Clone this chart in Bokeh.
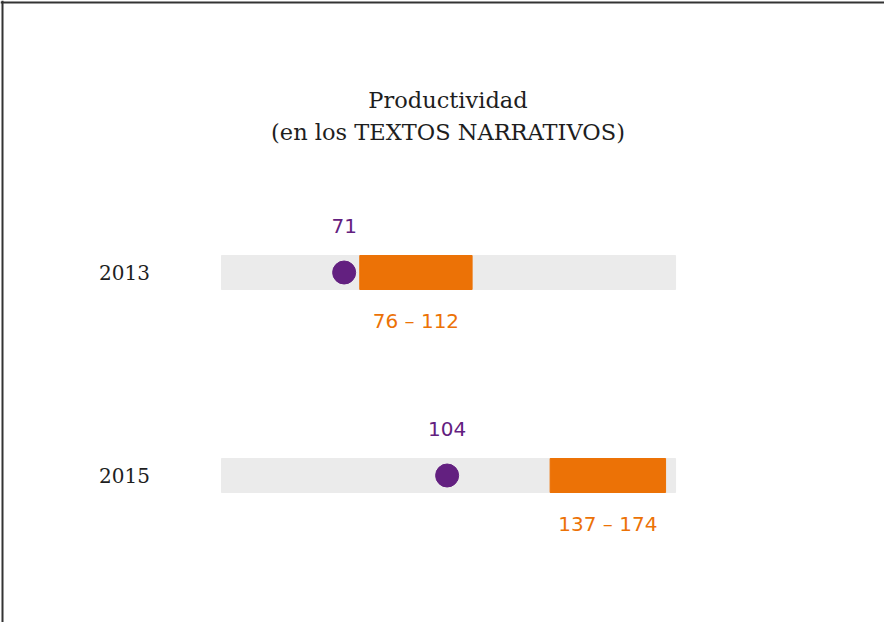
from bokeh.plotting import figure
from bokeh.models import Range1d, Span, ColumnDataSource
from bokeh.core.properties import value
from bokeh.embed import file_html
from bokeh.resources import INLINE

# ---- data ----
years = [2013, 2015]
year_labels = ["2013", "2015"]
scores = [71, 104]
range_low = [76, 137]
range_high = [112, 174]
track_min = [31.7, 31.7]
track_max = [177.2, 177.2]
title_lines = ["Productividad", "(en los TEXTOS NARRATIVOS)"]

# ---- layout / scale constants ----
W, H = 884, 622
PX_PER_VAL = 3.1206
X0_PAGE = 130.09
PX_PER_YEAR = 101.5
ROW_PAGE_Y = 280.0

x_start = (8 - X0_PAGE) / PX_PER_VAL
x_end = x_start + W / PX_PER_VAL
y_top = years[0] - (ROW_PAGE_Y - 8) / PX_PER_YEAR
y_bottom = y_top + H / PX_PER_YEAR

GRAY = "#ebebeb"
ORANGE = "#ec7206"
PURPLE = "#632080"
DARK = "#1e1e1e"

p = figure(width=W, height=H, output_backend="svg", toolbar_location=None,
           x_range=Range1d(x_start, x_end), y_range=Range1d(y_bottom, y_top),
           x_axis_location=None, y_axis_location=None, min_border=0)
p.grid.visible = False
p.outline_line_color = None
p.background_fill_color = "white"
p.border_fill_color = "white"

bar_h = 34 / PX_PER_YEAR
above = 47 / PX_PER_YEAR
below = 48 / PX_PER_YEAR

src = ColumnDataSource(dict(
    y=years, ylab=year_labels, score=scores, lo=range_low, hi=range_high,
    tmin=track_min, tmax=track_max,
    mid=[(a + b) / 2 for a, b in zip(range_low, range_high)],
    score_txt=[str(s) for s in scores],
    range_txt=[f"{a} \u2013 {b}" for a, b in zip(range_low, range_high)],
    y_above=[y - above for y in years],
    y_below=[y + below for y in years],
))

p.hbar(y="y", left="tmin", right="tmax", height=bar_h, color=GRAY, source=src)
p.hbar(y="y", left="lo", right="hi", height=bar_h, color=ORANGE, source=src)
p.scatter(x="score", y="y", size=23, color=PURPLE, source=src)

p.text(x="score", y="y_above", text="score_txt", source=src,
       text_font=value("DejaVu Sans"), text_font_size="20px",
       text_color=PURPLE, text_align="center", text_baseline="middle")
p.text(x="mid", y="y_below", text="range_txt", source=src,
       text_font=value("DejaVu Sans"), text_font_size="20px",
       text_color=ORANGE, text_align="center", text_baseline="middle")

year_x = (157.5 - X0_PAGE) / PX_PER_VAL
p.text(x=[year_x] * len(years), y=years, text=year_labels,
       text_font=value("DejaVu Serif"), text_font_size="20px",
       text_color=DARK, text_align="right", text_baseline="middle")

title_x = (455.5 - X0_PAGE) / PX_PER_VAL
title_y = [years[0] + (107 - ROW_PAGE_Y) / PX_PER_YEAR,
           years[0] + (139 - ROW_PAGE_Y) / PX_PER_YEAR]
p.text(x=[title_x] * 2, y=title_y, text=title_lines,
       text_font=value("DejaVu Serif"), text_font_size="22.5px",
       text_color=DARK, text_align="center", text_baseline="middle")

# frame border (left and top edges only, as in the reference)
p.add_layout(Span(location=x_start + 2 / PX_PER_VAL, dimension="height",
                  line_color="#333333", line_width=2))
p.add_layout(Span(location=y_top + 2 / PX_PER_YEAR, dimension="width",
                  line_color="#333333", line_width=2))

open("out.html", "w").write(file_html(p, INLINE))
